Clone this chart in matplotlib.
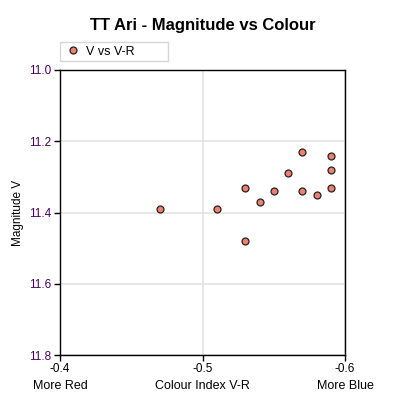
import matplotlib.pyplot as plt

plt.rcParams['font.family'] = ['Liberation Sans', 'DejaVu Sans']

# V-R colour index and V magnitude of TT Ari
colour_vr = [-0.47, -0.51, -0.53, -0.53, -0.54, -0.55, -0.56, -0.57, -0.57, -0.58, -0.59, -0.59, -0.59]
mag_v = [11.39, 11.39, 11.33, 11.48, 11.37, 11.34, 11.29, 11.23, 11.34, 11.35, 11.24, 11.28, 11.33]

x_ticks = [-0.4, -0.5, -0.6]
y_ticks = [11.0, 11.2, 11.4, 11.6, 11.8]

fig = plt.figure(figsize=(4.05, 4.05), dpi=100)
ax = fig.add_axes([60 / 405, 50 / 405, 285 / 405, 285 / 405])

ax.plot(colour_vr, mag_v, linestyle='none', marker='o', markersize=5,
        markerfacecolor='#F08070', markeredgecolor='#222222', markeredgewidth=0.9,
        label='V vs V-R', zorder=3)

ax.set_xlim(-0.4, -0.6)
ax.set_ylim(11.8, 11.0)
ax.set_xticks(x_ticks)
ax.set_xticklabels(['-0.4', '-0.5', '-0.6'])
ax.set_yticks(y_ticks)
ax.set_yticklabels([f'{v:.1f}' for v in y_ticks])
ax.tick_params(axis='both', direction='out', length=4, width=1, labelsize=8.5, pad=2)
ax.tick_params(axis='y', labelcolor='#4B0060')
ax.grid(True, color='#E3E3E3', linewidth=1.2)
ax.set_axisbelow(True)
for sp in ax.spines.values():
    sp.set_color('black')
    sp.set_linewidth(1)

ax.set_ylabel('Magnitude V', fontsize=8.5, labelpad=4)
ax.text(0.5, -0.108, 'Colour Index V-R', transform=ax.transAxes, ha='center', va='center', fontsize=9)
ax.text(0.0, -0.108, 'More Red', transform=ax.transAxes, ha='center', va='center', fontsize=9)
ax.text(1.0, -0.108, 'More Blue', transform=ax.transAxes, ha='center', va='center', fontsize=9)

fig.suptitle('TT Ari - Magnitude vs Colour', x=0.5, y=0.955, fontsize=12, fontweight='bold')

leg = ax.legend(loc='lower left', bbox_to_anchor=(0.0, 1.03, 0.38, 0.075), mode='expand',
                fontsize=9, frameon=True, fancybox=False, borderaxespad=0,
                handletextpad=0.3, borderpad=0.3, handlelength=1.5)
leg.get_frame().set_edgecolor('#CCCCCC')
leg.get_frame().set_linewidth(1)

fig.savefig('out.png', dpi=100)
